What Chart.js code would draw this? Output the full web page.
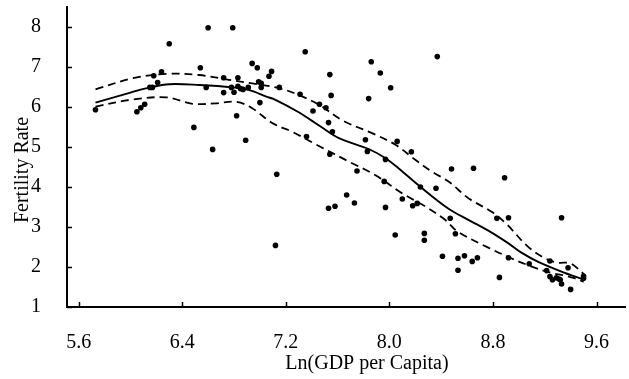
<!DOCTYPE html>
<html>
<head>
<meta charset="utf-8">
<script src="https://cdn.jsdelivr.net/npm/chart.js@4/dist/chart.umd.min.js"></script>
<style>
  html, body { margin: 0; padding: 0; background: #fff; }
  #c { display: block; }
</style>
</head>
<body>
<canvas id="c" width="629" height="379"></canvas>
<script>
// ---- Data ----
const gdpX = [5.73,6.05,6.08,6.11,6.15,6.17,6.18,6.21,6.24,6.30,6.49,6.54,6.585,6.60,6.635,6.72,6.72,6.78,6.79,6.80,
  6.82,6.83,6.83,6.85,6.87,6.89,6.91,6.94,6.98,6.99,7.01,7.01,7.00,7.07,7.09,7.12,7.13,7.15,7.31,7.35,
  7.36,7.41,7.46,7.51,7.53,7.53,7.54,7.54,7.55,7.56,7.58,7.67,7.73,7.75,7.815,7.83,7.84,7.86,7.93,7.96,
  7.97,7.97,8.01,8.045,8.06,8.10,8.17,8.18,8.215,8.24,8.27,8.27,8.36,8.37,8.41,8.47,8.48,8.51,8.53,8.53,
  8.58,8.64,8.65,8.68,8.83,8.85,8.89,8.92,8.92,9.08,9.215,9.24,9.24,9.26,9.29,9.31,9.32,9.33,9.33,9.38,
  9.40,9.50,9.50];
const fertility = [5.93,5.88,5.98,6.07,6.49,6.49,6.78,6.61,6.88,7.58,5.49,6.98,6.49,7.98,4.94,6.73,6.36,6.49,7.98,6.37,
  5.78,6.73,6.52,6.46,6.44,5.17,6.49,7.09,6.98,6.63,6.59,6.49,6.11,6.77,6.89,2.54,4.32,6.49,6.32,7.38,
  5.26,5.90,6.07,5.98,5.61,3.47,6.81,4.82,6.29,5.38,3.52,3.80,3.60,4.40,5.18,4.89,6.21,7.13,6.85,4.14,
  4.69,3.49,6.48,2.80,5.14,3.70,4.88,3.53,3.59,4.00,2.84,2.67,3.97,7.26,2.27,3.22,4.45,2.83,2.22,1.92,
  2.28,2.14,4.47,2.23,3.22,1.74,4.23,3.23,2.23,2.08,1.91,2.15,1.76,1.68,1.73,1.70,1.68,1.575,3.23,1.98,
  1.44,1.77,1.72];

const fitX  = [5.73,6.00,6.15,6.30,6.53,6.79,6.92,7.05,7.12,7.30,7.40,7.46,7.61,7.84,7.97,8.07,8.23,8.46,8.61,8.79,8.92,9.02,9.15,9.35,9.49];
const fitY  = [6.11,6.36,6.49,6.57,6.55,6.49,6.42,6.26,6.18,5.87,5.66,5.53,5.22,4.95,4.72,4.47,4.03,3.45,3.18,2.86,2.59,2.36,2.13,1.86,1.70];

const upperX = [5.73,6.02,6.28,6.53,6.76,6.94,7.15,7.30,7.46,7.64,7.87,8.05,8.20,8.33,8.46,8.61,8.79,8.90,9.07,9.20,9.30,9.40,9.51];
const upperY = [6.44,6.72,6.83,6.80,6.68,6.59,6.47,6.30,6.05,5.66,5.34,5.05,4.68,4.38,4.13,3.72,3.38,3.09,2.51,2.22,2.11,2.09,1.80];

const lowerX = [5.73,6.02,6.28,6.48,6.66,6.82,6.94,7.10,7.25,7.43,7.69,7.89,8.10,8.28,8.43,8.53,8.76,8.94,9.10,9.25,9.35,9.43,9.50];
const lowerY = [6.01,6.19,6.24,6.08,6.09,6.13,5.97,5.59,5.38,5.07,4.63,4.30,3.84,3.51,3.18,2.88,2.49,2.22,2.01,1.85,1.79,1.72,1.63];

const xTickPositions = [5.6,5.8,6.0,6.2,6.4,6.6,6.8,7.0,7.2,7.4,7.6,7.8,8.0,8.2,8.4,8.6,8.8,9.0,9.2,9.4,9.6,9.8];
const xLabelValues = [5.6,6.4,7.2,8.0,8.8,9.6];
const xTickLabels  = ['5.6','6.4','7.2','8.0','8.8','9.6'];
const yTickPositions = [1,1.5,2,2.5,3,3.5,4,4.5,5,5.5,6,6.5,7,7.5,8,8.5];
const yLabelValues = [1,2,3,4,5,6,7,8];
const yTickLabels  = ['1','2','3','4','5','6','7','8'];

const xTitle = 'Ln(GDP per Capita)';
const yTitle = 'Fertility Rate';

// ---- Chart ----
const FONT = 'Liberation Serif, Times New Roman, serif';
const toXY = (xs, ys) => xs.map((x, i) => ({ x: x, y: ys[i] }));
const labelFor = (vals, labels) => (value) => {
  const i = vals.findIndex(v => Math.abs(v - value) < 1e-6);
  return i >= 0 ? labels[i] : null;
};
const noPad = s => { s.paddingTop = 0; s.paddingBottom = 0; s.paddingLeft = 0; s.paddingRight = 0; };

const decorations = {
  id: 'decorations',
  afterDraw(chart) {
    const { ctx, chartArea, scales } = chart;
    ctx.save();
    ctx.strokeStyle = '#000';
    ctx.lineWidth = 1.5;
    scales.x.ticks.forEach(t => {
      const px = Math.round(scales.x.getPixelForValue(t.value)) + 0.5;
      ctx.beginPath();
      ctx.moveTo(px, chartArea.bottom);
      ctx.lineTo(px, chartArea.bottom - 5);
      ctx.stroke();
    });
    scales.y.ticks.forEach(t => {
      const py = Math.round(scales.y.getPixelForValue(t.value)) + 0.5;
      ctx.beginPath();
      ctx.moveTo(chartArea.left, py);
      ctx.lineTo(chartArea.left + 5, py);
      ctx.stroke();
    });
    ctx.fillStyle = '#000';
    ctx.font = '20px ' + FONT;
    ctx.textAlign = 'center';
    ctx.textBaseline = 'alphabetic';
    ctx.fillText(xTitle, 367, 369);
    ctx.translate(27.5, 170);
    ctx.rotate(-Math.PI / 2);
    ctx.fillText(yTitle, 0, 0);
    ctx.restore();
  }
};

new Chart(document.getElementById('c'), {
  data: {
    datasets: [
      { type: 'scatter', data: toXY(gdpX, fertility), pointRadius: 2.8, pointBackgroundColor: '#000', pointBorderWidth: 0, order: 1 },
      { type: 'line', data: toXY(fitX, fitY), borderColor: '#000', borderWidth: 1.9, pointRadius: 0, tension: 0.35, fill: false, order: 2 },
      { type: 'line', data: toXY(upperX, upperY), borderColor: '#000', borderWidth: 1.8, borderDash: [8, 5], pointRadius: 0, tension: 0.35, fill: false, order: 3 },
      { type: 'line', data: toXY(lowerX, lowerY), borderColor: '#000', borderWidth: 1.8, borderDash: [8, 5], pointRadius: 0, tension: 0.35, fill: false, order: 4 }
    ]
  },
  options: {
    responsive: false,
    animation: false,
    devicePixelRatio: 1,
    layout: { padding: { left: 0, right: 2, top: 7, bottom: 0 } },
    plugins: { legend: { display: false }, tooltip: { enabled: false } },
    scales: {
      x: {
        type: 'linear', position: 'bottom', min: 5.51, max: 9.82,
        afterBuildTicks: s => { s.ticks = xTickPositions.map(v => ({ value: v })); },
        afterFit: s => { s.height = 72; noPad(s); },
        grid: { display: false },
        border: { display: true, color: '#000', width: 2 },
        ticks: { autoSkip: false, maxRotation: 0, padding: 16, color: '#000', font: { family: FONT, size: 20 },
                 callback: labelFor(xLabelValues, xTickLabels) },
        title: { display: false }
      },
      y: {
        type: 'linear', position: 'left', min: 1, max: 8.5,
        afterBuildTicks: s => { s.ticks = yTickPositions.map(v => ({ value: v })); },
        afterFit: s => { s.width = 67; noPad(s); },
        grid: { display: false },
        border: { display: true, color: '#000', width: 2 },
        ticks: { autoSkip: false, padding: 18, color: '#000', font: { family: FONT, size: 20 },
                 callback: labelFor(yLabelValues, yTickLabels) },
        title: { display: false }
      }
    }
  },
  plugins: [decorations]
});
</script>
</body>
</html>
